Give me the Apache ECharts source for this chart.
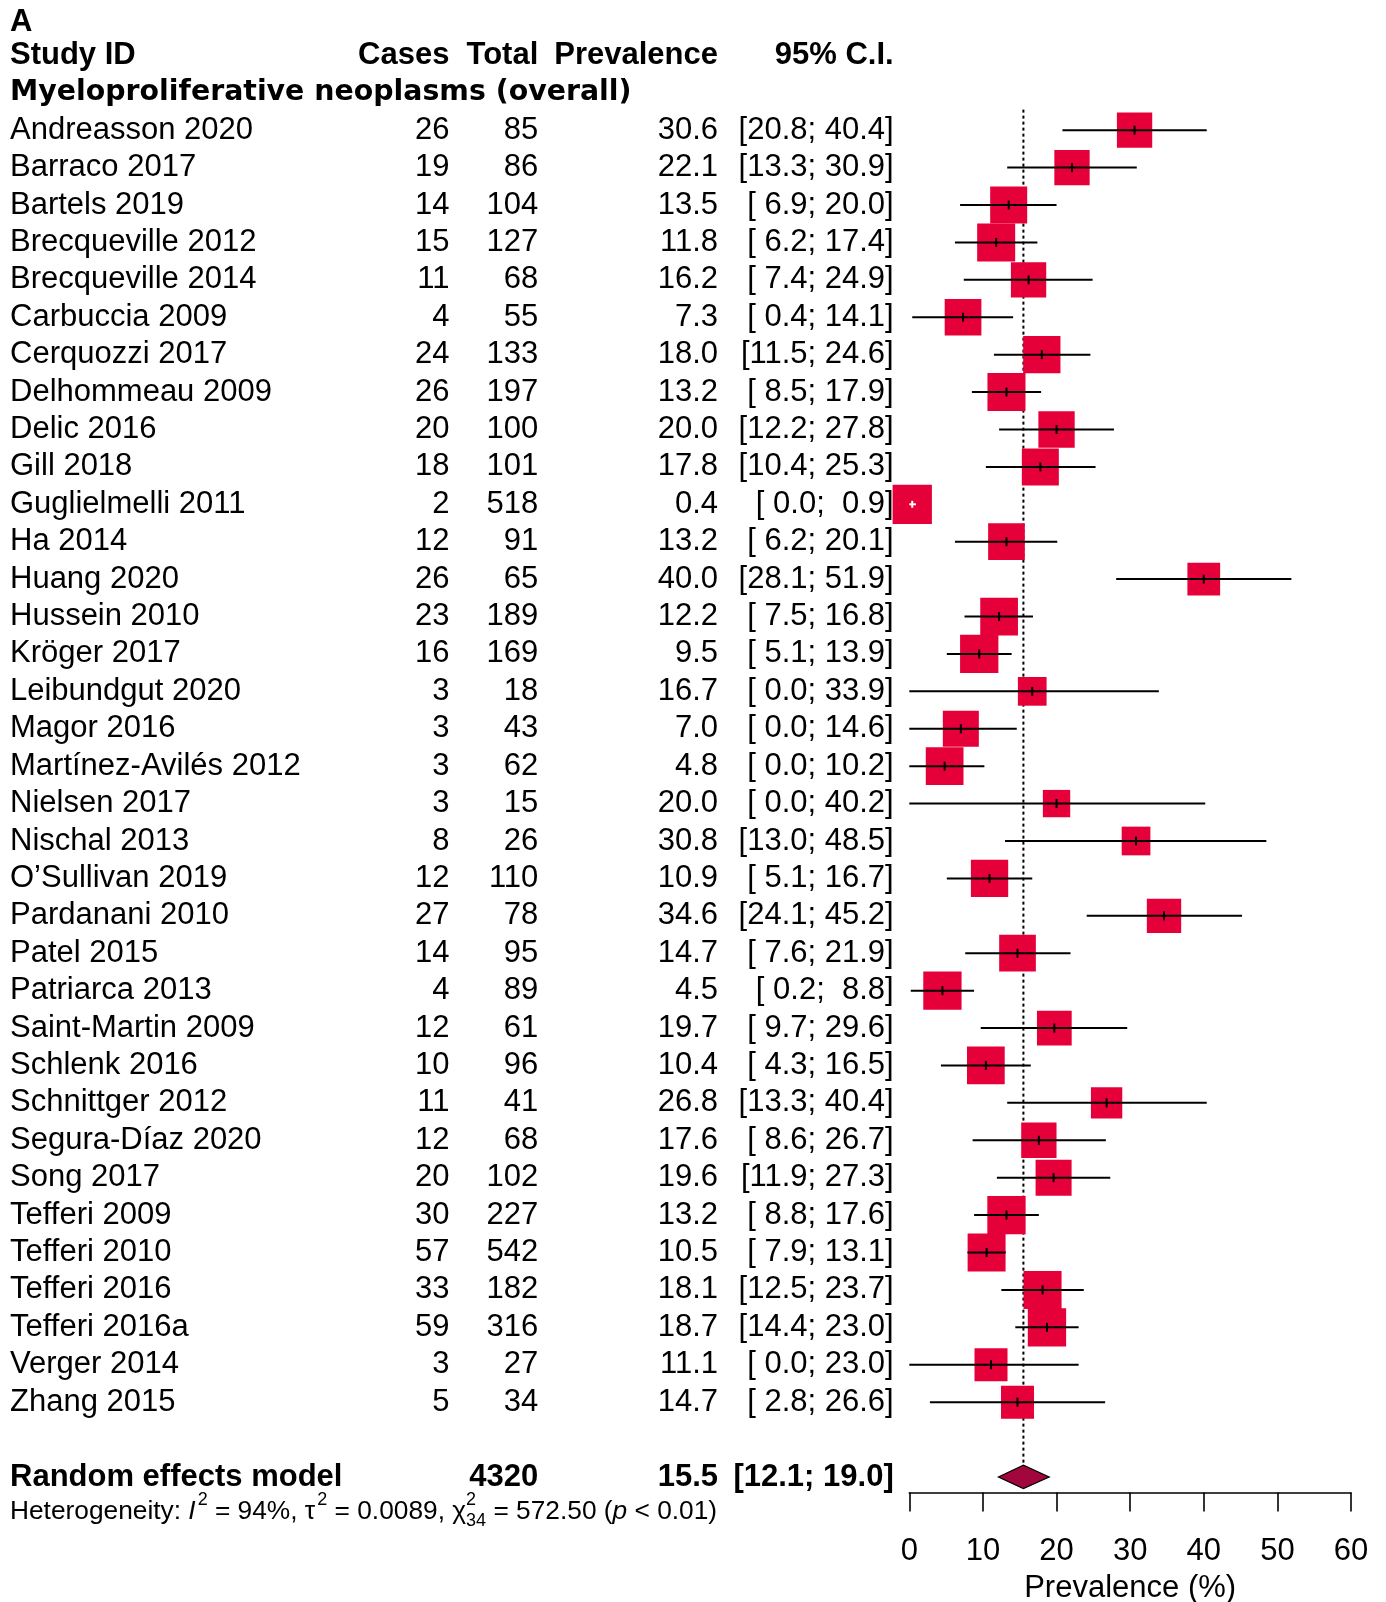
<!DOCTYPE html>
<html>
<head>
<meta charset="utf-8">
<script src="https://cdn.jsdelivr.net/npm/echarts@6/dist/echarts.min.js"></script>
<style>
  html, body { margin: 0; padding: 0; background: #ffffff; }
  #chart { width: 1386px; height: 1602px; }
</style>
</head>
<body>
<div id="chart"></div>
<script>
// ---- Study-level data (prevalence in %) ----
const studies = ["Andreasson 2020","Barraco 2017","Bartels 2019","Brecqueville 2012","Brecqueville 2014","Carbuccia 2009","Cerquozzi 2017","Delhommeau 2009","Delic 2016","Gill 2018","Guglielmelli 2011","Ha 2014","Huang 2020","Hussein 2010","Kröger 2017","Leibundgut 2020","Magor 2016","Martínez-Avilés 2012","Nielsen 2017","Nischal 2013","O’Sullivan 2019","Pardanani 2010","Patel 2015","Patriarca 2013","Saint-Martin 2009","Schlenk 2016","Schnittger 2012","Segura-Díaz 2020","Song 2017","Tefferi 2009","Tefferi 2010","Tefferi 2016","Tefferi 2016a","Verger 2014","Zhang 2015"];
const cases = [26,19,14,15,11,4,24,26,20,18,2,12,26,23,16,3,3,3,3,8,12,27,14,4,12,10,11,12,20,30,57,33,59,3,5];
const totals = [85,86,104,127,68,55,133,197,100,101,518,91,65,189,169,18,43,62,15,26,110,78,95,89,61,96,41,68,102,227,542,182,316,27,34];
const prevalence = [30.6,22.1,13.5,11.8,16.2,7.3,18.0,13.2,20.0,17.8,0.4,13.2,40.0,12.2,9.5,16.7,7.0,4.8,20.0,30.8,10.9,34.6,14.7,4.5,19.7,10.4,26.8,17.6,19.6,13.2,10.5,18.1,18.7,11.1,14.7];
const ciLower = [20.8,13.3,6.9,6.2,7.4,0.4,11.5,8.5,12.2,10.4,0.0,6.2,28.1,7.5,5.1,0.0,0.0,0.0,0.0,13.0,5.1,24.1,7.6,0.2,9.7,4.3,13.3,8.6,11.9,8.8,7.9,12.5,14.4,0.0,2.8];
const ciUpper = [40.4,30.9,20.0,17.4,24.9,14.1,24.6,17.9,27.8,25.3,0.9,20.1,51.9,16.8,13.9,33.9,14.6,10.2,40.2,48.5,16.7,45.2,21.9,8.8,29.6,16.5,40.4,26.7,27.3,17.6,13.1,23.7,23.0,23.0,26.6];
// random-effects weights (%), drive the box areas
const weights = [2.77,2.77,3.04,3.21,2.77,2.99,3.09,3.21,2.93,3.04,3.43,2.99,2.38,3.16,3.26,1.83,2.88,3.16,1.66,1.83,3.09,2.62,2.99,3.26,2.68,3.16,2.18,2.77,2.88,3.26,3.20,3.21,3.26,2.42,2.42];

// ---- Pooled estimate ----
const pooledTotal = 4320;
const pooledEst = 15.5;
const pooledLower = 12.1;
const pooledUpper = 19.0;

// ---- Heterogeneity statistics ----
const hetI2 = "94%";
const hetTau2 = "0.0089";
const hetQ = "572.50";
const hetDf = "34";
const hetP = "0.01";

// ---- Axis ----
const axisMin = 0, axisMax = 60, axisStep = 10;
const axisTitle = "Prevalence (%)";

// ---- Headings ----
const panelLabel = "A";
const headStudy = "Study ID", headCases = "Cases", headTotal = "Total", headPrev = "Prevalence", headCI = "95% C.I.";
const subgroupTitle = "Myeloproliferative neoplasms (overall)";
const pooledLabel = "Random effects model";

// ---- Styling / layout ----
const BOX_COLOR = "#E6003A";
const DIAMOND_COLOR = "#A1063D";
const FONT = '"Liberation Sans", Arial, Helvetica, sans-serif';
const FS = 31;
const BOX_SCALE = 21.22;          // px per sqrt(weight %)
const ROW_H = 37.41;
const FIRST_ROW_Y = 130.2;
const AXIS_Y = 1492.4;
const COL_NAME = 10, COL_CASES = 449.4, COL_TOTAL = 538.3, COL_PREV = 718, COL_CI = 893.7;
const POOLED_ROW = 36;
const DIAMOND_HALF_H = 11.7;

const fmt1 = v => v.toFixed(1);
const pad4 = s => (s.length < 4 ? " ".repeat(4 - s.length) + s : s);
const ciText = (lo, hi) => "[" + pad4(fmt1(lo)) + "; " + pad4(fmt1(hi)) + "]";

const measureCtx = document.createElement("canvas").getContext("2d");
function textWidth(str, size, weight, style) {
  measureCtx.font = (style || "normal") + " " + (weight || "normal") + " " + size + "px " + FONT;
  return measureCtx.measureText(str).width;
}

const chart = echarts.init(document.getElementById("chart"), null, { renderer: "canvas" });

const yMin = -3;
const yMax = (AXIS_Y - FIRST_ROW_Y) / ROW_H;
const gridTop = FIRST_ROW_Y + yMin * ROW_H;
const gridHeight = (yMax - yMin) * ROW_H;

function txt(x, y, text, opt) {
  opt = opt || {};
  return {
    type: "text",
    x: x, y: y,
    style: {
      text: text,
      fill: "#000",
      fontFamily: opt.family || FONT,
      fontSize: opt.size || FS,
      fontWeight: opt.weight || "normal",
      fontStyle: opt.style || "normal",
      align: opt.align || "left",
      verticalAlign: "middle"
    }
  };
}

function renderStudy(params, api) {
  const row = api.value(0), est = api.value(1), lo = api.value(2), hi = api.value(3), w = api.value(4);
  const c = api.coord([est, row]);
  const pl = api.coord([lo, row]);
  const ph = api.coord([hi, row]);
  const side = BOX_SCALE * Math.sqrt(w);
  const inside = pl[0] >= c[0] - side / 2 && ph[0] <= c[0] + side / 2;
  const lc = inside ? "#ffffff" : "#000000";
  const tick = inside ? 3.5 : 4.5;
  return {
    type: "group",
    children: [
      { type: "rect", shape: { x: c[0] - side / 2, y: c[1] - side / 2, width: side, height: side }, style: { fill: BOX_COLOR } },
      { type: "line", shape: { x1: pl[0], y1: c[1], x2: ph[0], y2: c[1] }, style: { stroke: lc, lineWidth: 2 } },
      { type: "line", shape: { x1: c[0], y1: c[1] - tick, x2: c[0], y2: c[1] + tick }, style: { stroke: lc, lineWidth: 2 } }
    ]
  };
}

function renderPooled(params, api) {
  const row = api.value(0);
  const c = api.coord([api.value(1), row]);
  const l = api.coord([api.value(2), row]);
  const h = api.coord([api.value(3), row]);
  const top = api.coord([api.value(1), -0.55]);
  return {
    type: "group",
    children: [
      { type: "line", shape: { x1: c[0], y1: top[1], x2: c[0], y2: c[1] - DIAMOND_HALF_H }, style: { stroke: "#000", lineWidth: 2, lineDash: [3, 3] } },
      { type: "polygon", shape: { points: [[l[0], c[1]], [c[0], c[1] - DIAMOND_HALF_H], [h[0], c[1]], [c[0], c[1] + DIAMOND_HALF_H]] },
        style: { fill: DIAMOND_COLOR, stroke: "#000", lineWidth: 1.2 } }
    ]
  };
}

function renderTable(params, api) {
  const Y = r => api.coord([0, r])[1];
  const kids = [];
  kids.push(txt(COL_NAME, Y(-2.87), panelLabel, { weight: "bold" }));
  const yh = Y(-2);
  kids.push(txt(COL_NAME, yh, headStudy, { weight: "bold" }));
  kids.push(txt(COL_CASES, yh, headCases, { weight: "bold", align: "right" }));
  kids.push(txt(COL_TOTAL, yh, headTotal, { weight: "bold", align: "right" }));
  kids.push(txt(COL_PREV, yh, headPrev, { weight: "bold", align: "right" }));
  kids.push(txt(COL_CI, yh, headCI, { weight: "bold", align: "right" }));
  kids.push(txt(COL_NAME, Y(-1), subgroupTitle, { weight: "bold", family: '"DejaVu Sans", Verdana, sans-serif', size: 28.4 }));

  studies.forEach((name, i) => {
    const y = Y(i);
    kids.push(txt(COL_NAME, y, name));
    kids.push(txt(COL_CASES, y, String(cases[i]), { align: "right" }));
    kids.push(txt(COL_TOTAL, y, String(totals[i]), { align: "right" }));
    kids.push(txt(COL_PREV, y, fmt1(prevalence[i]), { align: "right" }));
    kids.push(txt(COL_CI, y, ciText(ciLower[i], ciUpper[i]), { align: "right" }));
  });

  const yp = Y(POOLED_ROW);
  kids.push(txt(COL_NAME, yp, pooledLabel, { weight: "bold" }));
  kids.push(txt(COL_TOTAL, yp, String(pooledTotal), { weight: "bold", align: "right" }));
  kids.push(txt(COL_PREV, yp, fmt1(pooledEst), { weight: "bold", align: "right" }));
  kids.push(txt(COL_CI, yp, ciText(pooledLower, pooledUpper), { weight: "bold", align: "right" }));

  // heterogeneity line with super/subscripts
  const hs = 26.3, ss = 18;
  const yy = Y(36.93);
  let x = COL_NAME;
  const piece = (s, opt) => {
    opt = opt || {};
    const size = opt.size || hs;
    kids.push(txt(x, yy + (opt.dy || 0), s, { size: size, style: opt.style }));
    const w = textWidth(s, size, "normal", opt.style);
    if (!opt.noAdvance) x += w;
    return w;
  };
  piece("Heterogeneity: ");
  piece("I", { style: "italic" });
  x += 2;
  piece("2", { size: ss, dy: -12 });
  piece(" = " + hetI2 + ", τ");
  x += 2;
  piece("2", { size: ss, dy: -12 });
  piece(" = " + hetTau2 + ", χ");
  const wSup = piece("2", { size: ss, dy: -12, noAdvance: true });
  const wSub = piece(hetDf, { size: ss, dy: 9.5, noAdvance: true });
  x += Math.max(wSup, wSub);
  piece(" = " + hetQ + " (");
  piece("p", { style: "italic" });
  piece(" < " + hetP + ")");

  return { type: "group", children: kids };
}

const option = {
  animation: false,
  backgroundColor: "#ffffff",
  grid: {
    left: 909.3, width: 441.7, top: gridTop, height: gridHeight,
    containLabel: false, outerBoundsMode: "none"
  },
  xAxis: {
    type: "value",
    min: axisMin, max: axisMax, interval: axisStep,
    position: "bottom",
    axisLine: { show: true, onZero: false, lineStyle: { color: "#000", width: 1.6 } },
    axisTick: { show: true, inside: false, length: 19, lineStyle: { color: "#000", width: 1.6 } },
    axisLabel: { show: true, margin: 44, color: "#000", fontSize: FS, fontFamily: FONT },
    splitLine: { show: false },
    name: axisTitle,
    nameLocation: "middle",
    nameGap: 81,
    nameTextStyle: { color: "#000", fontSize: FS, fontFamily: FONT }
  },
  yAxis: {
    type: "value", min: yMin, max: yMax, inverse: true, show: false,
    splitLine: { show: false }
  },
  series: [
    {
      type: "custom", name: "studies", clip: false,
      data: studies.map((s, i) => [i, prevalence[i], ciLower[i], ciUpper[i], weights[i]]),
      renderItem: renderStudy, z: 3
    },
    {
      type: "custom", name: "pooled", clip: false,
      data: [[POOLED_ROW, pooledEst, pooledLower, pooledUpper]],
      renderItem: renderPooled, z: 2
    },
    {
      type: "custom", name: "table", clip: false,
      data: [[0, 0]],
      renderItem: renderTable, z: 4, silent: true
    }
  ]
};
chart.setOption(option);
</script>
</body>
</html>
